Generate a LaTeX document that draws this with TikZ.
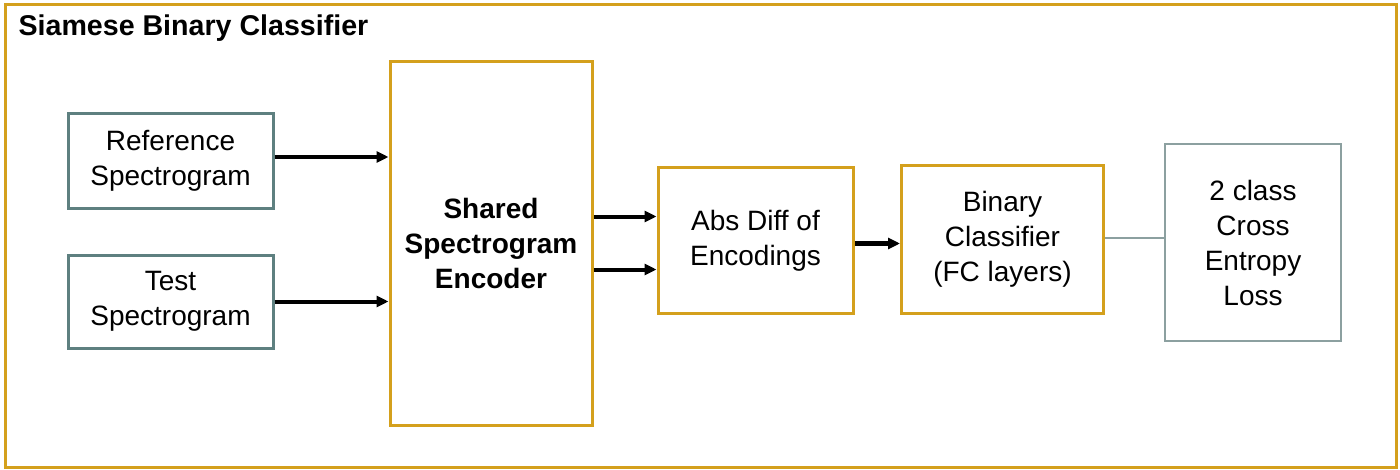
\documentclass[tikz,border=0pt]{standalone}
\usepackage{fontspec}
\setmainfont{Liberation Sans}
\usepackage{tikz}
\usetikzlibrary{arrows,arrows.meta,shapes}

\definecolor{gold}{RGB}{212,160,28}
\definecolor{slate}{RGB}{94,128,128}
\definecolor{paleslate}{RGB}{140,160,160}

\begin{document}
\begin{tikzpicture}[x=0.5pt,y=-0.5pt,>={Triangle[length=6pt,width=5.5pt]},semithick,
                    font=\fontsize{14}{17.5}\selectfont]
  \tikzstyle{every node}=[align=center,inner sep=0pt]
  \tikzstyle{input}=[draw=slate,line width=1.5pt]
  \tikzstyle{block}=[draw=gold,line width=1.5pt]
  \tikzstyle{loss}=[draw=paleslate,line width=1pt]
  \tikzstyle{flow}=[->,line width=2pt,black]

  \useasboundingbox (0,0) rectangle (1400,470);
  \draw[gold,line width=1.5pt] (5,5) rectangle (1396,467);
  \node[anchor=base west,font=\fontsize{14.3}{17}\selectfont\bfseries]
        (title) at (18,36) {Siamese Binary Classifier};

  \node[input,minimum width=102.5pt,minimum height=47pt]
        (ref) at (170.5,161) {Reference\\Spectrogram};
  \node[input,minimum width=102.5pt,minimum height=46.5pt]
        (test) at (170.5,301.5) {Test\\Spectrogram};
  \node[block,minimum width=101pt,minimum height=181.5pt,font=\fontsize{14}{17.5}\selectfont\bfseries]
        (enc) at (491,243.5) {Shared\\Spectrogram\\Encoder};
  \node[block,minimum width=97.5pt,minimum height=72.5pt]
        (absdiff) at (755.5,240.5) {Abs Diff of\\Encodings};
  \node[block,minimum width=101pt,minimum height=73.5pt]
        (binary) at (1002.5,239.5) {Binary\\Classifier\\(FC layers)};
  \node[loss,minimum width=88pt,minimum height=98.5pt]
        (xent) at (1253,242.5) {2 class\\Cross\\Entropy\\Loss};

  \draw[flow] ([yshift=2pt]ref.east) -- ([yshift=2pt]ref.east -| enc.west);
  \draw[flow] (test.east) -- (test.east -| enc.west);
  \draw[flow] ([yshift=12pt]absdiff.west -| enc.east) -- ([yshift=12pt]absdiff.west);
  \draw[flow] ([yshift=-14.5pt]absdiff.west -| enc.east) -- ([yshift=-14.5pt]absdiff.west);
  \draw[flow,line width=2.5pt] ([yshift=-1.5pt]absdiff.east) -- ([yshift=-1.5pt]absdiff.east -| binary.west);
  \draw[paleslate,line width=1pt] ([yshift=1pt]binary.east) -- ([yshift=1pt]binary.east -| xent.west);
\end{tikzpicture}
\end{document}
